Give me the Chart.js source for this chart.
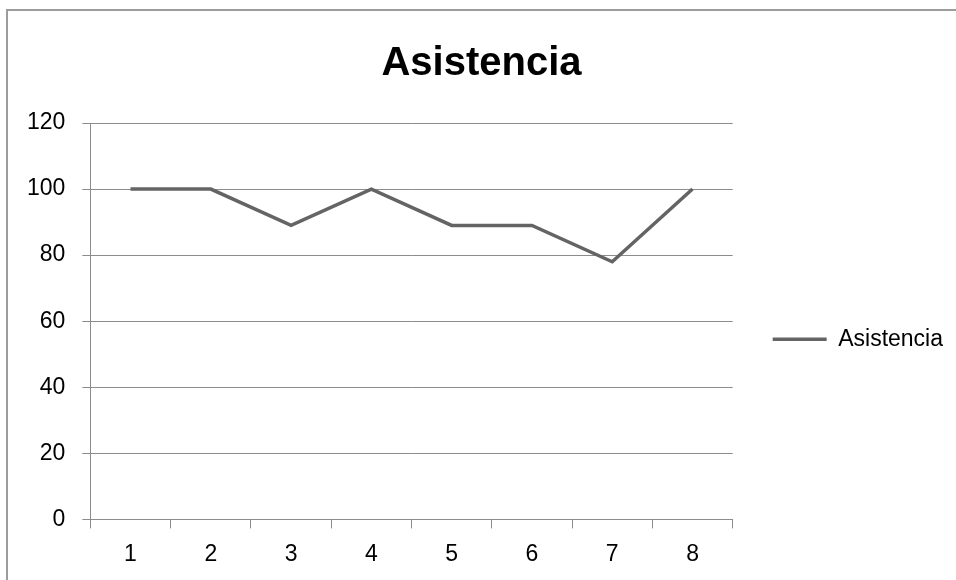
<!DOCTYPE html>
<html>
<head>
<meta charset="utf-8">
<script src="https://cdn.jsdelivr.net/npm/chart.js@4.4.0/dist/chart.umd.min.js"></script>
<style>
  html, body { margin: 0; padding: 0; background: #fff; }
  #wrap { position: relative; width: 956px; height: 580px; overflow: hidden; }
  #frame {
    position: absolute; left: 6px; top: 9px; width: 1000px; height: 700px;
    border-left: 2px solid #9c9c9c; border-top: 2px solid #9c9c9c;
    pointer-events: none;
  }
</style>
</head>
<body>
<div id="wrap">
  <canvas id="chart" width="956" height="580"></canvas>
  <div id="frame"></div>
</div>
<script>
// attendance per session
const sessions = ['1', '2', '3', '4', '5', '6', '7', '8'];
const attendance = [100, 100, 89, 100, 89, 89, 78, 100];
const yTicks = [0, 20, 40, 60, 80, 100, 120];

const axisGrey = '#8c8c8c';
const lineGrey = '#646464';
const labelFont = { family: "'Liberation Sans', Arial, sans-serif", size: 23 };

Chart.defaults.font.family = labelFont.family;
Chart.defaults.color = '#000';

const ctx = document.getElementById('chart');
const myChart = new Chart(ctx, {
  type: 'line',
  data: {
    labels: sessions,
    datasets: [
      {
        label: 'Asistencia',
        data: attendance,
        borderColor: lineGrey,
        backgroundColor: lineGrey,
        borderWidth: 3.5,
        pointRadius: 0,
        tension: 0,
        fill: false
      }
    ]
  },
  options: {
    responsive: false,
    animation: false,
    devicePixelRatio: 1,
    layout: { padding: { left: 10, right: 3, top: 28, bottom: 0 } },
    plugins: {
      tooltip: { enabled: false },
      title: {
        display: true,
        text: 'Asistencia',
        color: '#000',
        font: { family: labelFont.family, size: 40, weight: 'bold' },
        padding: { top: 12, bottom: 35 }
      },
      legend: {
        display: true,
        position: 'right',
        fullSize: false,
        title: { display: true, text: ' ', font: { size: 10 }, padding: 12 },
        labels: {
          usePointStyle: true,
          pointStyle: 'line',
          pointStyleWidth: 54,
          padding: 40,
          color: '#000',
          font: labelFont
        }
      }
    },
    scales: {
      x: {
        offset: true,
        grid: {
          offset: true,
          drawOnChartArea: false,
          color: axisGrey,
          tickLength: 9
        },
        border: { display: true, color: axisGrey },
        ticks: { font: labelFont, padding: 12, maxRotation: 0 }
      },
      y: {
        min: 0,
        max: 120,
        afterBuildTicks: axis => {
          axis.ticks = yTicks.map(v => ({ value: v }));
        },
        grid: { color: axisGrey, tickLength: 8 },
        border: { display: true, color: axisGrey },
        ticks: { font: labelFont, padding: 17 }
      }
    }
  }
});
</script>
</body>
</html>
